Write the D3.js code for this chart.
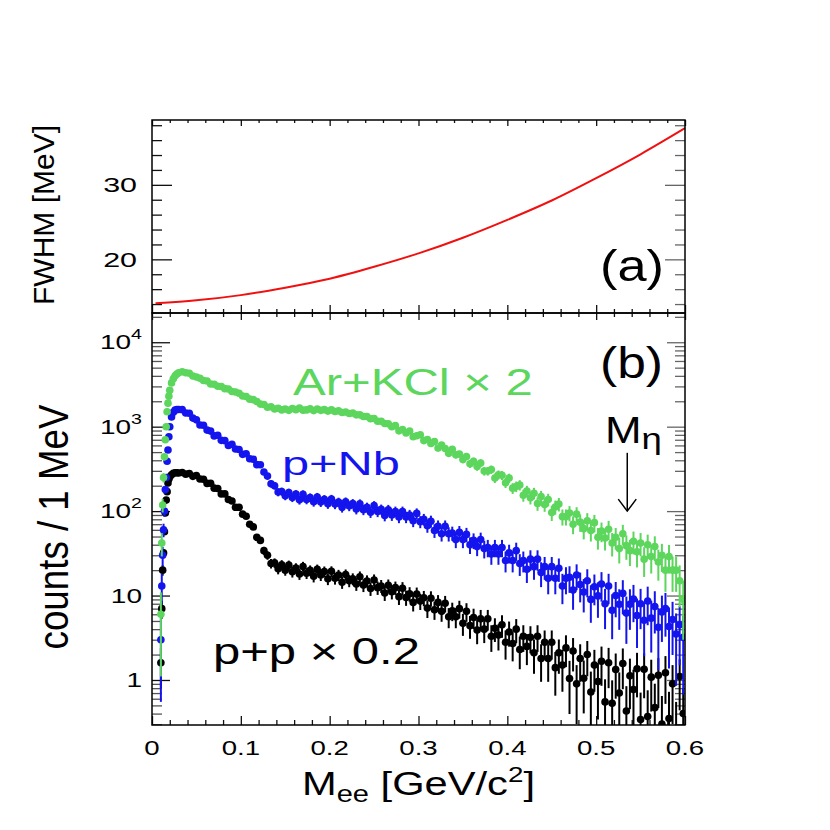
<!DOCTYPE html>
<html>
<head>
<meta charset="utf-8">
<script src="https://cdn.jsdelivr.net/npm/d3@7"></script>
<style>
  body { margin: 0; background: #fff; }
  text { font-family: "Liberation Sans", Arial, Helvetica, sans-serif; }
</style>
</head>
<body>
<div id="chart"></div>
<script>
// ---- panel (a): mass resolution ----
var fwhmMass  = [0.004, 0.05, 0.1, 0.15, 0.2, 0.25, 0.3, 0.35, 0.4, 0.45, 0.5, 0.55, 0.6];
var fwhmValue = [14.1, 14.5, 15.2, 16.2, 17.4, 19.0, 20.8, 22.9, 25.3, 27.9, 30.9, 34.1, 37.6];

// ---- panel (b): dielectron spectra ----
// fine bins on the rising edge, then 4 MeV bins from 0.034 to 0.598
var massLow = [0.010, 0.011, 0.012, 0.013, 0.014, 0.015, 0.016, 0.017, 0.018, 0.019, 0.020, 0.022, 0.024, 0.026, 0.028, 0.030];
var massHigh = d3.range(142).map(function(i) { return +(0.034 + 0.004 * i).toFixed(3); });
var mass = massLow.concat(massHigh);

var arKCl = [
  6, 42, 118, 250, 440, 700, 1000, 1500, 1900, 2300, 2700, 3300, 3700, 4000, 4200, 4350,
  4480, 4350, 4290, 3990, 3880, 3750, 3520, 3470, 3200, 3180,
  3010, 2990, 2820, 2790, 2610, 2570, 2490, 2310, 2280, 2120,
  2090, 1990, 1850, 1830, 1700, 1720, 1620, 1650, 1580, 1620,
  1560, 1640, 1590, 1660, 1570, 1580, 1630, 1550, 1620, 1560,
  1590, 1530, 1580, 1510, 1540, 1470, 1490, 1430, 1450, 1380,
  1380, 1320, 1320, 1240, 1250, 1160, 1160, 1090, 1080, 1000,
  1030, 893, 927, 844, 890, 761, 780, 803, 684, 704,
  634, 668, 558, 604, 550, 483, 540, 464, 474, 409,
  444, 363, 390, 337, 372, 298, 298, 311, 247, 270,
  266, 217, 246, 187, 196, 204, 154, 173, 144, 163,
  123, 149, 120, 137, 96, 112, 121, 86, 86, 95,
  70, 92, 74, 62, 77, 59, 73, 49, 58, 48,
  61, 42, 49, 36, 54, 39, 34, 44, 33, 42,
  27, 40, 29, 38, 25, 30, 20, 29, 20, 20,
  15, 9
];

var pNb = [
  3, 13, 30, 60, 100, 180, 250, 390, 530, 760, 1000, 1300, 1480, 1570, 1600, 1600,
  1590, 1455, 1442, 1264, 1204, 1048, 1040, 911, 887, 778,
  790, 689, 683, 599, 620, 544, 536, 470, 478, 417,
  412, 355, 354, 291, 260, 211, 200, 168, 171, 152,
  166, 145, 159, 136, 158, 137, 145, 129, 147, 128,
  138, 122, 139, 121, 128, 111, 129, 115, 123, 106,
  122, 104, 111, 97, 116, 99, 105, 89, 104, 90,
  99, 85, 99, 85, 90, 77, 94, 75, 80, 67,
  76, 59, 66, 54, 66, 54, 55, 46, 56, 46,
  53, 40, 45, 38, 46, 36, 37, 31, 37, 31,
  37, 26, 32, 26, 34, 24, 26, 20.5, 27, 22,
  27, 18.7, 22, 16, 22, 16, 21, 13, 16, 16.5,
  11.6, 17.5, 13.5, 11, 15, 9, 12.7, 9.9, 13.7, 8,
  13, 6.7, 10, 7.9, 10.6, 6.2, 7.9, 9.1, 5.8, 8,
  5.1, 8.6, 5.4, 7.4, 4.2, 6.4, 7, 4.3, 5.2, 3.5,
  4.5, 3.2
];

var pp = [
  1.6, 7, 20, 32, 57, 95, 135, 170, 215, 240, 255, 270, 280, 285, 285, 283,
  287, 274, 279, 258, 264, 240, 238, 213, 214, 187,
  185, 160, 160, 137, 132, 111, 111, 92, 87, 70,
  65, 49, 45, 34, 30, 24, 24.4, 20.7, 23.2, 20,
  22.9, 19.1, 21.2, 18, 22.1, 18.4, 19.9, 16.9, 20.4, 17.5,
  19.3, 15.8, 19.4, 16, 17.5, 14.4, 17.7, 15, 15.8, 13.7,
  16.7, 13.3, 14.9, 12.1, 15.3, 12.4, 13, 10.7, 13.2, 11.1,
  12.4, 9.7, 12.2, 9.5, 10.5, 8.3, 10.4, 8.6, 9.4, 7.1,
  9.3, 6.8, 8.3, 6.5, 8.1, 5.6, 6.6, 5.6, 7, 4.7,
  6.5, 4.4, 5.5, 3.9, 5.3, 4, 5.3, 3.3, 4.1, 3.4,
  4.5, 2.8, 3.7, 2.7, 4, 2.3, 3.3, 2.5, 3.2, 2.1,
  3.3, 1.8, 2.8, 1.8, 2.8, 1.4, 2.1, 1.5, 2.4, 1.04,
  2.2, 0.9, 1.8, 1.05, 2, 0.72, 1.5, 0.96, 1.67, 0.55,
  1.6, 0.53, 1.33, 0.7, 1.57, 0.43, 1.12, 0.77, 1.36, 0.34,
  1.34, 0.37, 1.08, 0.47, 1.14, 0.3, 1.22, 0.35, 0.9, 0.24,
  1.1, 0.4
];

// raw counts per unit of plotted value (sets the statistical error bars)
var countsPerUnit = { arKCl: 0.25, pNb: 0.5, pp: 2.5 };

var xTickLabels = ['0', '0.1', '0.2', '0.3', '0.4', '0.5', '0.6'];
var fwhmTicks = [20, 30];
var logTicks = [1, 10, 100, 1000, 10000];

// ---- layout ----
var W = 830, H = 830;
var left = 152, right = 685, topA = 120, midY = 313, bottomB = 725;

var svg = d3.select('#chart').append('svg')
  .attr('width', W)
  .attr('height', H);

var x = d3.scaleLinear().domain([0, 0.6]).range([left, right]);
var yA = d3.scaleLinear().domain([12.8, 38.7]).range([midY, topA]);
var yB = d3.scaleLog().domain([0.293, 22200]).range([bottomB, midY]);

var xMajor = d3.range(7).map(function(i) { return i / 10; });
var xMinor = d3.range(31).map(function(i) { return i / 50; }).filter(function(v, i) { return i % 5 !== 0; });
var aMinor = d3.range(14, 39, 2).filter(function(v) { return v % 10 !== 0; });
var bMinor = [];
[0.1, 1, 10, 100, 1000, 10000].forEach(function(d) {
  for (var k = 2; k <= 9; k++) {
    var v = d * k;
    if (v > 0.293 && v < 22200) bMinor.push(v);
  }
});

function tickSet(axisFn, scale, values, size, tx, ty, color) {
  var g = svg.append('g')
    .attr('transform', 'translate(' + tx + ',' + ty + ')')
    .call(axisFn(scale).tickValues(values).tickSize(size).tickFormat(''));
  g.select('.domain').remove();
  g.selectAll('line').attr('stroke', color || '#111').attr('stroke-width', 1.3);
}

// panel (a) ticks
tickSet(d3.axisBottom, x, xMajor, 6, 0, topA);
tickSet(d3.axisBottom, x, xMinor, 3, 0, topA);
tickSet(d3.axisTop, x, xMajor, 8, 0, midY);
tickSet(d3.axisTop, x, xMinor, 4, 0, midY);
tickSet(d3.axisRight, yA, fwhmTicks, 20, left, 0);
tickSet(d3.axisRight, yA, aMinor, 10, left, 0);
tickSet(d3.axisLeft, yA, fwhmTicks, 20, right, 0, '#666');
tickSet(d3.axisLeft, yA, aMinor, 10, right, 0, '#666');

// panel (b) ticks
tickSet(d3.axisBottom, x, xMajor, 7, 0, midY);
tickSet(d3.axisBottom, x, xMinor, 4, 0, midY);
tickSet(d3.axisTop, x, xMajor, 9, 0, bottomB);
tickSet(d3.axisTop, x, xMinor, 5, 0, bottomB);
tickSet(d3.axisRight, yB, logTicks, 18, left, 0);
tickSet(d3.axisRight, yB, bMinor, 10, left, 0, '#555');
tickSet(d3.axisLeft, yB, logTicks, 18, right, 0, '#666');
tickSet(d3.axisLeft, yB, bMinor, 10, right, 0, '#666');

// ---- panel (a) curve ----
var fwhmData = fwhmMass.map(function(m, i) { return { m: m, v: fwhmValue[i] }; });
svg.append('path')
  .datum(fwhmData)
  .attr('fill', 'none')
  .attr('stroke', '#f01010')
  .attr('stroke-width', 2)
  .attr('d', d3.line()
    .x(function(d) { return x(d.m); })
    .y(function(d) { return yA(d.v); })
    .curve(d3.curveMonotoneX));

// ---- panel (b) points ----
svg.append('clipPath').attr('id', 'clipB')
  .append('rect')
  .attr('x', left).attr('y', midY)
  .attr('width', right - left).attr('height', bottomB - midY);

var plotB = svg.append('g').attr('clip-path', 'url(#clipB)');

var series = [
  { key: 'pp', values: pp, color: '#000000' },
  { key: 'pNb', values: pNb, color: '#1414ee' },
  { key: 'arKCl', values: arKCl, color: '#5cd65c' }
];

series.forEach(function(s) {
  var pts = mass.map(function(m, i) {
    var v = s.values[i];
    var err = Math.sqrt(v / countsPerUnit[s.key]);
    return { m: m, v: v, lo: v - err, hi: v + err };
  });
  var g = plotB.append('g');
  g.selectAll('line').data(pts).enter().append('line')
    .attr('x1', function(d) { return x(d.m); })
    .attr('x2', function(d) { return x(d.m); })
    .attr('y1', function(d) { return d.lo > 0.2 ? yB(d.lo) : bottomB + 5; })
    .attr('y2', function(d) { return yB(d.hi); })
    .attr('stroke', s.color)
    .attr('stroke-width', 2);
  g.selectAll('circle').data(pts).enter().append('circle')
    .attr('cx', function(d) { return x(d.m); })
    .attr('cy', function(d) { return yB(d.v); })
    .attr('r', 3.8)
    .attr('fill', s.color);
});

// frames
svg.append('rect').attr('x', left).attr('y', topA).attr('width', right - left).attr('height', midY - topA)
  .attr('fill', 'none').attr('stroke', '#000').attr('stroke-width', 1.5);
svg.append('rect').attr('x', left).attr('y', midY).attr('width', right - left).attr('height', bottomB - midY)
  .attr('fill', 'none').attr('stroke', '#000').attr('stroke-width', 1.5);

// ---- text ----
// stretch is either a fixed factor or fitted to a target length
function label(px, py, rot, size, anchor, color, build, stretch, target) {
  var g = svg.append('g').attr('transform', 'translate(' + px + ',' + py + ') rotate(' + rot + ')');
  var inner = g.append('g');
  var t = inner.append('text')
    .attr('text-anchor', anchor)
    .attr('font-size', size)
    .attr('fill', color);
  build(t);
  var sx = stretch;
  if (target) sx = target / t.node().getBBox().width;
  inner.attr('transform', 'scale(' + sx + ',1)');
  return t;
}

xTickLabels.forEach(function(s, i) {
  label(x(xMajor[i]), 755, 0, 20, 'middle', '#000', function(t) { t.text(s); }, 1.38);
});

fwhmTicks.forEach(function(v) {
  label(137, yA(v) + 7.5, 0, 21, 'end', '#000', function(t) { t.text(v); }, 1.45);
});

logTicks.forEach(function(v) {
  var p = Math.round(Math.log10(v));
  label(142, yB(v) + 7, 0, 20, 'end', '#000', function(t) {
    if (p < 2) {
      t.text(String(v));
    } else {
      t.append('tspan').text('10');
      t.append('tspan').attr('font-size', 14).attr('dy', -10).text(String(p));
    }
  }, 1.4);
});

// axis titles
label(68, 527, -90, 42, 'middle', '#000', function(t) { t.text('counts / 1 MeV'); }, 1, 245);
label(54, 215, -90, 30, 'middle', '#000', function(t) { t.text('FWHM [MeV]'); }, 1, 180);
label(302, 795, 0, 33, 'start', '#000', function(t) {
  t.append('tspan').text('M');
  t.append('tspan').attr('font-size', 23).attr('dy', 7).text('ee');
  t.append('tspan').attr('dy', -7).text(' [GeV/c');
  t.append('tspan').attr('font-size', 22).attr('dy', -13).text('2');
  t.append('tspan').attr('dy', 13).text(']');
}, 1, 233);

// panel labels
label(600, 281, 0, 44, 'start', '#000', function(t) { t.text('(a)'); }, 1, 64);
label(600, 378, 0, 44, 'start', '#000', function(t) { t.text('(b)'); }, 1, 63);

// series labels
label(293, 395, 0, 37, 'start', '#5cd65c', function(t) { t.text('Ar+KCl \u00d7 2'); }, 1, 240);
label(282, 475, 0, 34, 'start', '#1414ee', function(t) { t.text('p+Nb'); }, 1, 118);
label(213, 664, 0, 36, 'start', '#000', function(t) { t.text('p+p \u00d7 0.2'); }, 1, 207);

// eta mass marker
var etaX = x(0.535);
label(605, 443, 0, 36, 'start', '#000', function(t) {
  t.append('tspan').text('M');
  t.append('tspan').attr('font-size', 30).attr('dy', 6).text('\u03b7');
}, 1, 57);
svg.append('line')
  .attr('x1', etaX).attr('x2', etaX)
  .attr('y1', yB(490)).attr('y2', yB(100))
  .attr('stroke', '#000').attr('stroke-width', 1.5);
svg.append('path')
  .attr('d', 'M' + (etaX - 9) + ',' + (yB(100) - 12) + 'L' + etaX + ',' + yB(100) + 'L' + (etaX + 9) + ',' + (yB(100) - 12))
  .attr('fill', 'none')
  .attr('stroke', '#000')
  .attr('stroke-width', 1.5);
</script>
</body>
</html>
